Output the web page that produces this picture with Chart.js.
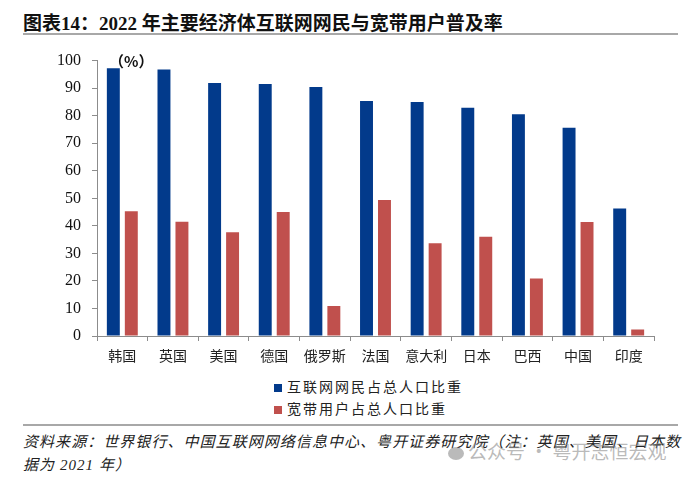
<!DOCTYPE html>
<html>
<head>
<meta charset="utf-8">
<script src="https://cdn.jsdelivr.net/npm/chart.js@4.4.0/dist/chart.umd.min.js"></script>
<style>
  body { margin: 0; width: 700px; height: 484px; background: #fff; position: relative; overflow: hidden; }
  #title { position: absolute; left: 23px; top: 8px; font: bold 19px "Liberation Serif", "Noto Sans CJK SC", serif; color: #111; white-space: nowrap; }
  .rule { position: absolute; left: 23px; width: 655px; height: 0; border-top: 2px solid #a8a8a8; }
  #wrap { position: absolute; left: 0; top: 40px; width: 700px; height: 330px; }
  #legend { position: absolute; left: 274px; top: 375px; font: 14px "Noto Sans CJK SC", serif; color: #222; letter-spacing: 2px; }
  #legend div { height: 22px; line-height: 22px; white-space: nowrap; }
  #legend span { display: inline-block; width: 8px; height: 8px; margin-right: 5px; vertical-align: 0px; }
  #source { position: absolute; left: 23px; top: 431px; font: italic 15px "Liberation Serif", "Noto Sans CJK SC", serif; color: #222; letter-spacing: 1.05px; line-height: 23px; white-space: nowrap; }
  #mark { position: absolute; left: 448px; top: 437px; font: 19px "Noto Sans CJK SC", sans-serif; color: rgba(140,140,140,0.6); white-space: nowrap; }
  #mark i { display: inline-block; width: 16px; height: 13px; border-radius: 50%; background: rgba(140,140,140,0.6); margin-right: 4px; vertical-align: -1px; }
</style>
</head>
<body>
<div id="title">图表14：2022 年主要经济体互联网网民与宽带用户普及率</div>
<div class="rule" style="top:33px"></div>
<div id="wrap"><canvas id="chart"></canvas></div>
<div id="legend"></div>
<div class="rule" style="top:424px"></div>
<div id="source">资料来源：世界银行、中国互联网网络信息中心、粤开证券研究院（注：英国、美国、日本数<br>据为 2021 年）</div>
<div id="mark"><i></i>公众号 · 粤开志恒宏观</div>
<script>
const countries = ["韩国", "英国", "美国", "德国", "俄罗斯", "法国", "意大利", "日本", "巴西", "中国", "印度"]
const internetShare = [97.2, 96.8, 91.9, 91.5, 90.4, 85.3, 85.0, 82.9, 80.5, 75.6, 46.3]
const broadbandShare = [45.3, 41.5, 37.7, 45.0, 10.9, 49.4, 33.7, 36.0, 20.9, 41.4, 2.4]
const seriesNames = ["互联网网民占总人口比重", "宽带用户占总人口比重"]
const unitLabel = "（%）"

const colors = ['#023a8b', '#c0504d']

// unit label next to the 100 tick
const unitPlugin = {
  id: 'unit',
  afterDraw(chart) {
    const ctx = chart.ctx
    const y = chart.scales.y.getPixelForValue(100)
    ctx.save()
    ctx.font = 'bold 15px "Noto Sans CJK SC"'
    ctx.fillStyle = '#111'
    ctx.textBaseline = 'middle'
    ctx.fillText(unitLabel, chart.chartArea.left + 12, y + 1)
    ctx.restore()
  }
}

const chart = new Chart(document.getElementById('chart'), {
  type: 'bar',
  data: {
    labels: countries,
    datasets: [
      { label: seriesNames[0], data: internetShare, backgroundColor: colors[0] },
      { label: seriesNames[1], data: broadbandShare, backgroundColor: colors[1] }
    ]
  },
  options: {
    responsive: true,
    maintainAspectRatio: false,
    animation: false,
    categoryPercentage: 0.71,
    barPercentage: 0.72,
    layout: { padding: { top: 17, right: 46, left: 0, bottom: 0 } },
    plugins: {
      legend: { display: false },
      tooltip: { enabled: false }
    },
    scales: {
      x: {
        grid: { display: true, drawOnChartArea: false, tickLength: 5, color: '#8c8c8c' },
        border: { color: '#8c8c8c', width: 1 },
        ticks: { font: { family: '"Noto Sans CJK SC"', size: 14 }, color: '#222', padding: 6, maxRotation: 0 },
        afterFit(scale) { scale.height = 34 }
      },
      y: {
        min: 0,
        max: 100,
        grid: { display: true, drawOnChartArea: false, tickLength: 5, color: '#8c8c8c' },
        border: { color: '#8c8c8c', width: 1 },
        ticks: { stepSize: 10, font: { family: '"Liberation Serif"', size: 16 }, color: '#111', padding: 11 },
        afterFit(scale) { scale.width = 97 }
      }
    }
  },
  plugins: [unitPlugin]
})

// two-row legend under the chart
const legendEl = document.getElementById('legend')
chart.data.datasets.forEach((ds) => {
  const row = document.createElement('div')
  const box = document.createElement('span')
  box.style.background = ds.backgroundColor
  row.appendChild(box)
  row.appendChild(document.createTextNode(ds.label))
  legendEl.appendChild(row)
})
</script>
</body>
</html>
